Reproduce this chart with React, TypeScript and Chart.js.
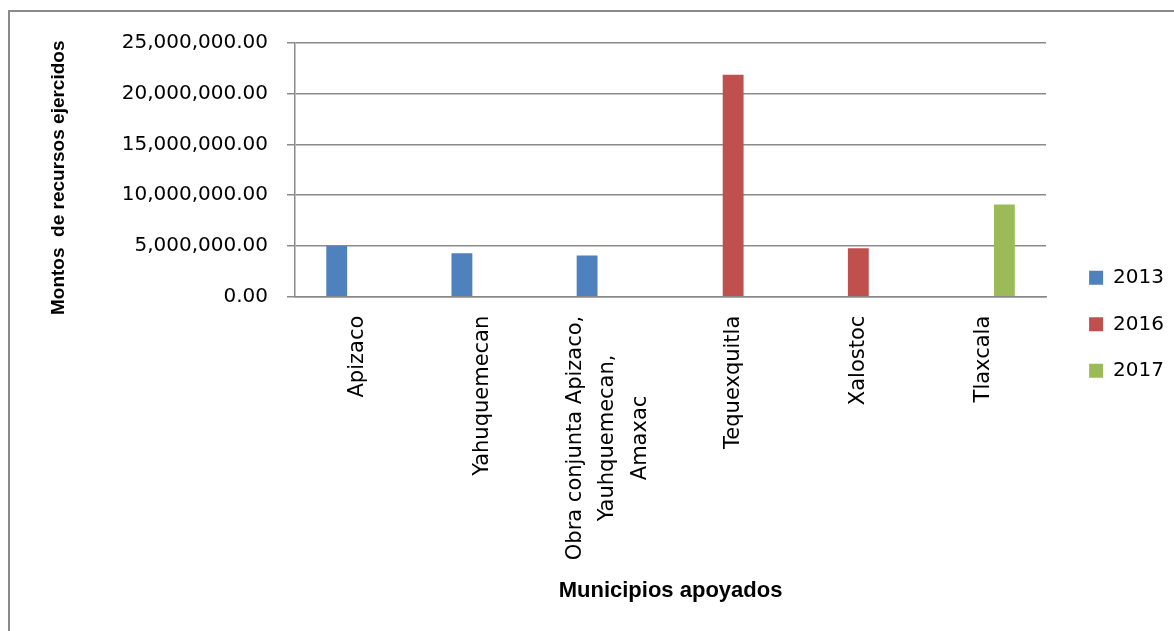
import React, { useEffect, useRef } from 'react';
import { Chart, registerables } from 'chart.js';

Chart.register(...registerables);

// ---- data ----
const categories: string[][] = [
  ['Apizaco'],
  ['Yahuquemecan'],
  ['Obra conjunta Apizaco,', 'Yauhquemecan,', 'Amaxac'],
  ['Tequexquitla'],
  ['Xalostoc'],
  ['Tlaxcala'],
];
const seriesNames = ['2013', '2016', '2017'];
const values2013 = [5000000, 4280000, 4060000, null, null, null];
const values2016 = [null, null, null, 21860000, 4770000, null];
const values2017 = [null, null, null, null, null, 9090000];
const yMin = 0;
const yMax = 25000000;
const yStep = 5000000;
const yAxisTitle = 'Montos  de recursos ejercidos   ';
const xAxisTitle = 'Municipios apoyados';

const seriesColors = ['#4F81BD', '#C0504D', '#9BBB59'];
const gridColor = '#8a8a8a';

const xLabelPlugin = {
  id: 'xLabelsCentered',
  afterDraw(chart: any) {
    const xs = chart.scales.x;
    const ctx: CanvasRenderingContext2D = chart.ctx;
    ctx.save();
    ctx.font = '21px "DejaVu Sans"';
    ctx.fillStyle = '#000';
    ctx.textAlign = 'center';
    ctx.textBaseline = 'middle';
    const top = chart.chartArea.bottom + 19;
    const lineGap = 32.5;
    (chart.data.labels as string[][]).forEach((lines, i) => {
      const px = xs.getPixelForTick(i);
      const maxW = Math.max(...lines.map((l) => ctx.measureText(l).width));
      const cy = top + maxW / 2;
      lines.forEach((line, j) => {
        const lx = px + (j - (lines.length - 1) / 2) * lineGap;
        ctx.save();
        ctx.translate(lx, cy);
        ctx.rotate(-Math.PI / 2);
        ctx.fillText(line, 0, 0);
        ctx.restore();
      });
    });
    ctx.restore();
  },
};

export default function App() {
  const ref = useRef<HTMLCanvasElement>(null);
  useEffect(() => {
    document.documentElement.style.overflow = 'hidden';
    document.body.style.overflow = 'hidden';
    const seriesValues = [values2013, values2016, values2017];
    const chart = new Chart(ref.current!, {
      type: 'bar',
      data: {
        labels: categories as any,
        datasets: seriesNames.map((name, i) => ({
          label: name,
          data: seriesValues[i] as any,
          backgroundColor: seriesColors[i],
          borderColor: seriesColors[i],
          borderWidth: 0,
          categoryPercentage: 0.5,
          barPercentage: 1,
        })),
      },
      options: {
        responsive: false,
        animation: false,
        devicePixelRatio: 1,
        layout: { padding: { top: 29.7, left: 0, right: 0, bottom: 0 } },
        plugins: {
          tooltip: { enabled: false },
          legend: {
            position: 'right',
            align: 'center',
            labels: {
              boxWidth: 14,
              boxHeight: 14,
              padding: 26.5,
              color: '#000',
              font: { family: '"DejaVu Sans"', size: 20 },
            },
          },
        },
        scales: {
          x: {
            grid: { display: false },
            border: { display: true, color: gridColor, width: 1.5 },
            ticks: { display: false },
            afterFit: (s: any) => {
              s.height = 595 - 284.7;
            },
            title: {
              display: true,
              text: xAxisTitle,
              color: '#000',
              font: { family: '"Liberation Sans"', size: 22, weight: 'bold' },
              padding: { top: 0, bottom: 3 },
            },
          },
          y: {
            min: yMin,
            max: yMax,
            afterFit: (s: any) => {
              s.width = 285;
            },
            ticks: {
              stepSize: yStep,
              padding: 19,
              color: '#000',
              font: { family: '"DejaVu Sans"', size: 20 },
              callback: (v: any) =>
                Number(v).toLocaleString('en-US', { minimumFractionDigits: 2, maximumFractionDigits: 2 }),
            },
            grid: { color: gridColor, lineWidth: 1.5, tickLength: 8, drawTicks: true },
            border: { display: true, color: gridColor, width: 1.5 },
            title: {
              display: true,
              text: yAxisTitle,
              color: '#000',
              font: { family: '"Liberation Sans"', size: 19, weight: 'bold' },
              padding: { top: 37.5, bottom: 0 },
            },
          },
          pad: {
            type: 'linear',
            position: 'right',
            display: true,
            grid: { display: false },
            ticks: { display: false },
            border: { display: false },
            afterFit: (s: any) => {
              s.width = 16.5;
            },
          },
        },
      } as any,
      plugins: [xLabelPlugin],
    });
    return () => chart.destroy();
  }, []);
  return (
    <div
      style={{
        position: 'fixed',
        left: 8,
        top: 10,
        width: 1400,
        height: 900,
        borderTop: '2px solid #8a8a8a',
        borderLeft: '2px solid #8a8a8a',
        background: '#fff',
      }}
    >
      <canvas ref={ref} width={1164} height={595} style={{ display: 'block', width: 1164, height: 595 }} />
    </div>
  );
}
